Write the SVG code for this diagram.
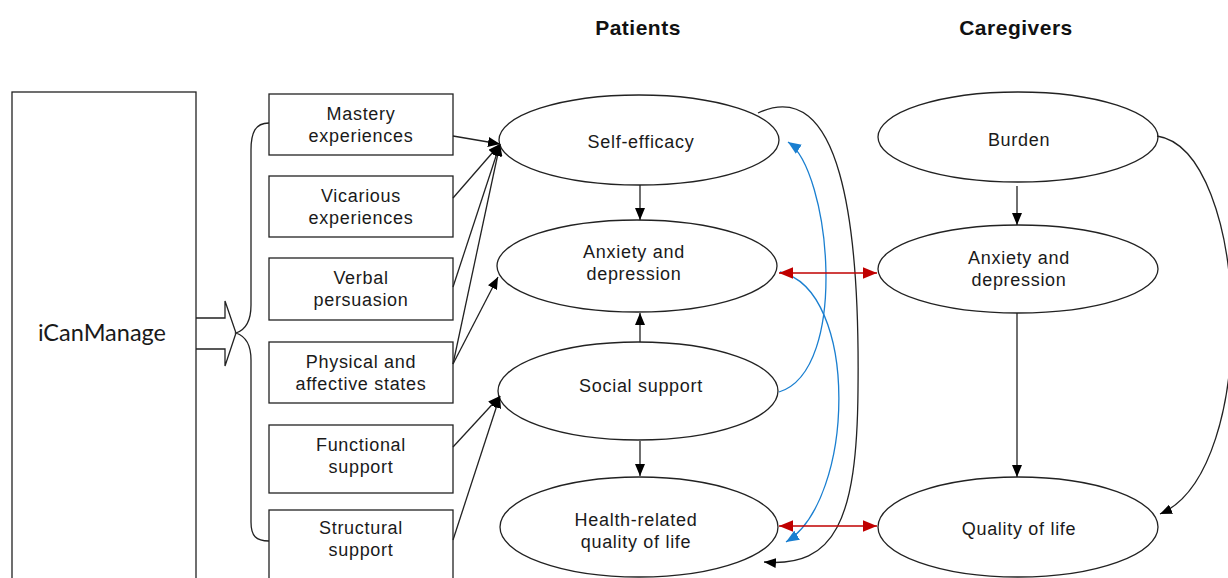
<svg xmlns="http://www.w3.org/2000/svg" width="1228" height="578" viewBox="0 0 1228 578">
<style>
.box{fill:#fff;stroke:#222;stroke-width:1.3}
.ell{fill:#fff;stroke:#222;stroke-width:1.3}
.t{font-family:"Liberation Sans",Arial,sans-serif;font-size:18px;letter-spacing:0.7px;fill:#1a1a1a;text-anchor:middle}
.h{font-family:"Liberation Sans",Arial,sans-serif;font-size:21px;letter-spacing:0.5px;font-weight:bold;fill:#111;text-anchor:middle}
.big{font-family:Lato,"Open Sans",sans-serif;font-size:23.5px;fill:#1a1a1a;text-anchor:middle}
.c{fill:none;stroke:#222;stroke-width:1.3}
.b{fill:none;stroke:#1a7fd0;stroke-width:1.3}
.r{fill:none;stroke:#c00000;stroke-width:1.5}
</style>
<defs>
<marker id="ak" viewBox="0 0 12 10" refX="12" refY="5" markerWidth="12" markerHeight="10" markerUnits="userSpaceOnUse" orient="auto"><path d="M0,0 L12,5 L0,10 Z" fill="#000"/></marker>
<marker id="ab" viewBox="0 0 12 10" refX="12" refY="5" markerWidth="13" markerHeight="11" markerUnits="userSpaceOnUse" orient="auto"><path d="M0,0 L12,5 L0,10 Z" fill="#1a7fd0"/></marker>
<marker id="ar" viewBox="0 0 12 10" refX="12" refY="5" markerWidth="14" markerHeight="12" markerUnits="userSpaceOnUse" orient="auto-start-reverse"><path d="M0,0 L12,5 L0,10 Z" fill="#c00000"/></marker>
</defs>
<rect width="1228" height="578" fill="#fff"/>

<text class="h" x="638" y="35">Patients</text>
<text class="h" x="1016" y="35">Caregivers</text>

<g id="icanmanage">
<rect class="box" x="12" y="92" width="184" height="500"/>
<text class="big" x="102" y="341">iCanManage</text>
</g>

<g id="blockarrow">
<path class="c" d="M196,318 L225,318 L225,301 L236,333 L225,366 L225,349 L196,349"/>
</g>
<g id="brace">
<path class="c" d="M269,123 C255,123 251,133 251,150 L251,305 C251,322 245,330 236,333 C245,336 251,344 251,360 L251,522 C251,536 256,541 269,541"/>
</g>

<g id="mastery"><rect class="box" x="269" y="94" width="184" height="61"/><text class="t" x="361" y="120">Mastery</text><text class="t" x="361" y="142">experiences</text></g>
<g id="vicarious"><rect class="box" x="269" y="176" width="184" height="61"/><text class="t" x="361" y="202">Vicarious</text><text class="t" x="361" y="224">experiences</text></g>
<g id="verbal"><rect class="box" x="269" y="258" width="184" height="62"/><text class="t" x="361" y="284">Verbal</text><text class="t" x="361" y="306">persuasion</text></g>
<g id="physical"><rect class="box" x="269" y="342" width="184" height="61"/><text class="t" x="361" y="368">Physical and</text><text class="t" x="361" y="390">affective states</text></g>
<g id="functional"><rect class="box" x="269" y="425" width="184" height="68"/><text class="t" x="361" y="451">Functional</text><text class="t" x="361" y="473">support</text></g>
<g id="structural"><rect class="box" x="269" y="510" width="184" height="80"/><text class="t" x="361" y="534">Structural</text><text class="t" x="361" y="556">support</text></g>

<g id="selfefficacy"><ellipse class="ell" cx="639" cy="140" rx="140" ry="45"/><text class="t" x="641" y="148">Self-efficacy</text></g>
<g id="p_anxiety"><ellipse class="ell" cx="637" cy="266" rx="140" ry="46"/><text class="t" x="634" y="258">Anxiety and</text><text class="t" x="634" y="280">depression</text></g>
<g id="socialsupport"><ellipse class="ell" cx="638" cy="391" rx="140" ry="49"/><text class="t" x="641" y="392">Social support</text></g>
<g id="hrqol"><ellipse class="ell" cx="639" cy="527" rx="139" ry="50"/><text class="t" x="636" y="526">Health-related</text><text class="t" x="636" y="548">quality of life</text></g>

<g id="burden"><ellipse class="ell" cx="1018" cy="137" rx="140" ry="45"/><text class="t" x="1019" y="146">Burden</text></g>
<g id="c_anxiety"><ellipse class="ell" cx="1018" cy="269" rx="140" ry="44"/><text class="t" x="1019" y="264">Anxiety and</text><text class="t" x="1019" y="286">depression</text></g>
<g id="qol"><ellipse class="ell" cx="1018" cy="527" rx="140" ry="50"/><text class="t" x="1019" y="535">Quality of life</text></g>

<g id="connectors">
<line class="c" x1="453" y1="136" x2="500" y2="144" marker-end="url(#ak)"/>
<line class="c" x1="453" y1="198" x2="500" y2="144" marker-end="url(#ak)"/>
<line class="c" x1="453" y1="287" x2="500" y2="144" marker-end="url(#ak)"/>
<line class="c" x1="453" y1="364" x2="500" y2="144" marker-end="url(#ak)"/>
<line class="c" x1="453" y1="364" x2="498" y2="277" marker-end="url(#ak)"/>
<line class="c" x1="453" y1="447" x2="500" y2="396" marker-end="url(#ak)"/>
<line class="c" x1="453" y1="540" x2="500" y2="396" marker-end="url(#ak)"/>

<line class="c" x1="640" y1="185" x2="640" y2="220" marker-end="url(#ak)"/>
<line class="c" x1="640" y1="342" x2="640" y2="313" marker-end="url(#ak)"/>
<line class="c" x1="640" y1="441" x2="640" y2="476" marker-end="url(#ak)"/>
<line class="c" x1="1017" y1="186" x2="1017" y2="225" marker-end="url(#ak)"/>
<line class="c" x1="1017" y1="313" x2="1017" y2="477" marker-end="url(#ak)"/>

<path class="c" d="M1157,136 C1250,150 1262,470 1160,514" marker-end="url(#ak)"/>
<path class="c" d="M758,113 C840,75 860,220 858,390 C857,520 835,568 764,562" marker-end="url(#ak)"/>

<path class="b" d="M779,392 C850,370 830,170 788,142" marker-end="url(#ab)"/>
<path class="b" d="M780,272 C860,290 855,500 786,542" marker-end="url(#ab)"/>

<line class="r" x1="779" y1="273" x2="877" y2="273" marker-start="url(#ar)" marker-end="url(#ar)"/>
<line class="r" x1="779" y1="526" x2="877" y2="526" marker-start="url(#ar)" marker-end="url(#ar)"/>
</g>
</svg>
